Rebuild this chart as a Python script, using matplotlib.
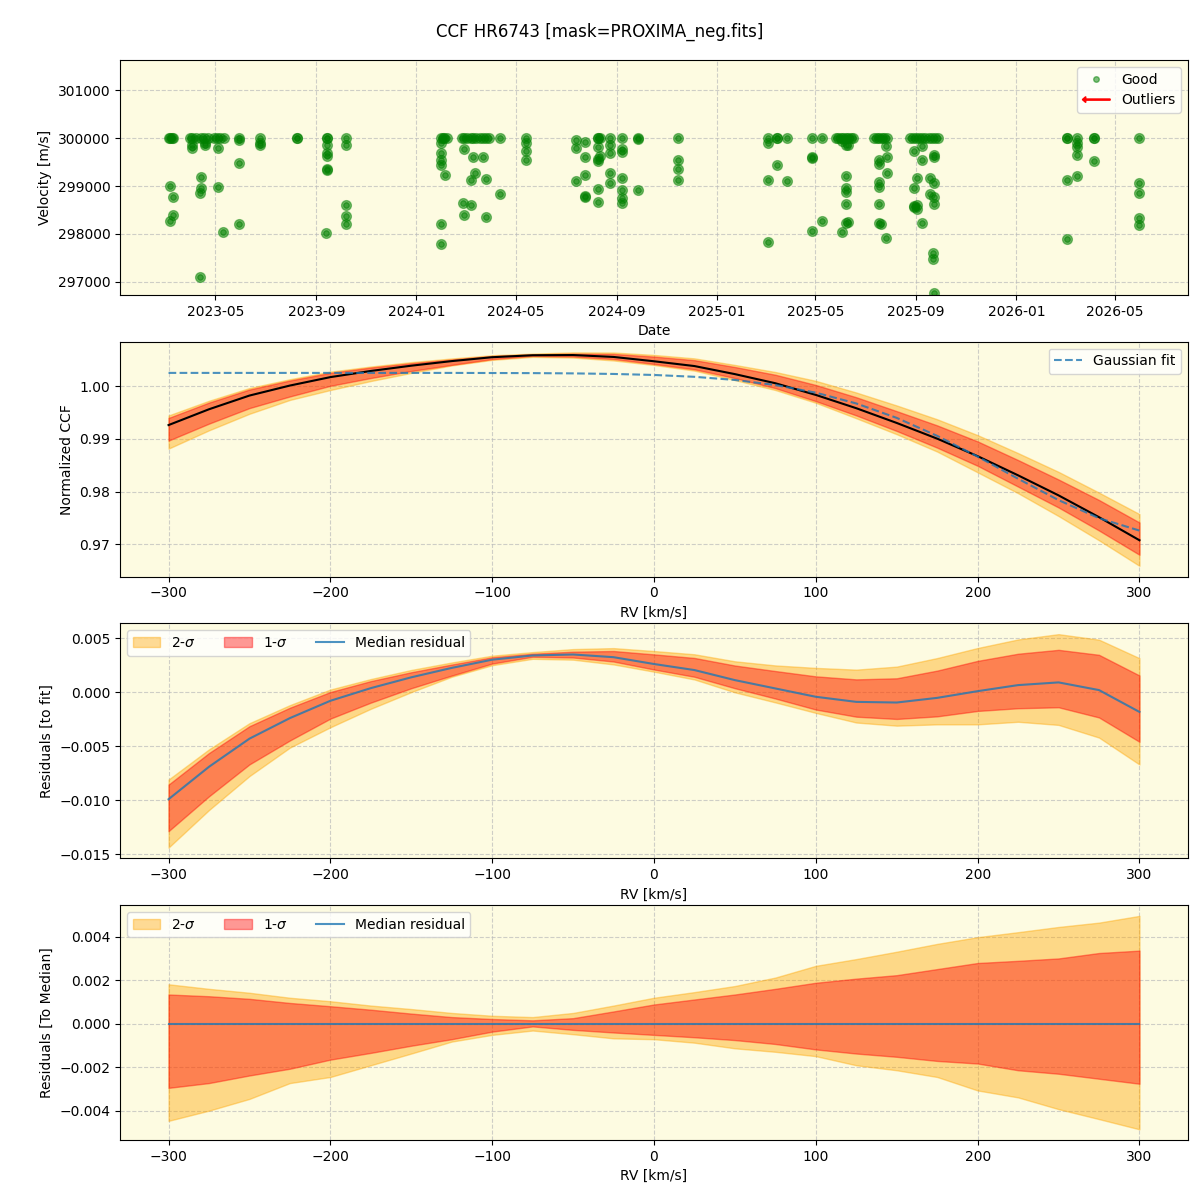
import numpy as np
import matplotlib
matplotlib.use('Agg')
import matplotlib.pyplot as plt
import matplotlib.dates as mdates
import matplotlib.patches as mpatches
from matplotlib.lines import Line2D
from matplotlib.legend_handler import HandlerPatch

# --- top panel: RV time series (date, velocity in m/s) ---
obs_dates = [
    '2023-03-05', '2023-03-07', '2023-03-09', '2023-03-11', '2023-03-07', '2023-03-10', '2023-03-10', '2023-03-07',
    '2023-03-31', '2023-04-03', '2023-04-08', '2023-04-13', '2023-04-17', '2023-04-22', '2023-04-03', '2023-04-03',
    '2023-04-14', '2023-04-14', '2023-04-12', '2023-04-12', '2023-04-19', '2023-04-19',
    '2023-04-29', '2023-05-03', '2023-05-07', '2023-05-11', '2023-05-04', '2023-05-04', '2023-05-10',
    '2023-05-30', '2023-05-30', '2023-05-30', '2023-05-30',
    '2023-06-24', '2023-06-24', '2023-06-24',
    '2023-08-09', '2023-08-09',
    '2023-09-14', '2023-09-14', '2023-09-14', '2023-09-14', '2023-09-14', '2023-09-14', '2023-09-14', '2023-09-13',
    '2023-10-07', '2023-10-07', '2023-10-07', '2023-10-07', '2023-10-07',
    '2024-01-31', '2024-02-02', '2024-02-04', '2024-02-07', '2024-01-31', '2024-01-31', '2024-01-31', '2024-01-31',
    '2024-02-05', '2024-01-31', '2024-01-31',
    '2024-02-25', '2024-02-28', '2024-03-03', '2024-03-07', '2024-03-10', '2024-03-14', '2024-03-18', '2024-03-22',
    '2024-03-26', '2024-03-30', '2024-02-28', '2024-03-10', '2024-03-22', '2024-03-12', '2024-03-07', '2024-03-26',
    '2024-02-27', '2024-03-07', '2024-02-28', '2024-03-26',
    '2024-04-12', '2024-04-12',
    '2024-05-13', '2024-05-13', '2024-05-13', '2024-05-13',
    '2024-07-13', '2024-07-13', '2024-07-13',
    '2024-07-25', '2024-07-25', '2024-07-25', '2024-07-25', '2024-07-25',
    '2024-08-09', '2024-08-09', '2024-08-09', '2024-08-09', '2024-08-09', '2024-08-09', '2024-08-09',
    '2024-08-12', '2024-08-12',
    '2024-08-24', '2024-08-24', '2024-08-24', '2024-08-24', '2024-08-24',
    '2024-09-08', '2024-09-08', '2024-09-08', '2024-09-08', '2024-09-08', '2024-09-08', '2024-09-08',
    '2024-09-27', '2024-09-27', '2024-09-27',
    '2024-11-15', '2024-11-15', '2024-11-15', '2024-11-15',
    '2025-03-04', '2025-03-04', '2025-03-04', '2025-03-04',
    '2025-03-15', '2025-03-15', '2025-03-15',
    '2025-03-27', '2025-03-27',
    '2025-04-27', '2025-04-27', '2025-04-27', '2025-04-27',
    '2025-05-09', '2025-05-09',
    '2025-05-26', '2025-05-29', '2025-06-01', '2025-06-04', '2025-06-07', '2025-06-10', '2025-06-13', '2025-06-16',
    '2025-06-02', '2025-06-02', '2025-06-07', '2025-06-07', '2025-06-07', '2025-06-07', '2025-06-07', '2025-06-07',
    '2025-06-10', '2025-06-10',
    '2025-07-12', '2025-07-15', '2025-07-18', '2025-07-21', '2025-07-24', '2025-07-27',
    '2025-07-18', '2025-07-18', '2025-07-18', '2025-07-18', '2025-07-18', '2025-07-18', '2025-07-20',
    '2025-07-26', '2025-07-26', '2025-07-27', '2025-07-27',
    '2025-08-24', '2025-08-28', '2025-09-01', '2025-09-04', '2025-09-08', '2025-09-12', '2025-09-16', '2025-09-20',
    '2025-09-24', '2025-09-28',
    '2025-08-29', '2025-08-29', '2025-08-29', '2025-08-29', '2025-09-02', '2025-09-02', '2025-09-02',
    '2025-09-08', '2025-09-08', '2025-09-08', '2025-09-18', '2025-09-18',
    '2025-09-23', '2025-09-23', '2025-09-23', '2025-09-23', '2025-09-23', '2025-09-21', '2025-09-21', '2025-09-23',
    '2026-03-04', '2026-03-04', '2026-03-04', '2026-03-04',
    '2026-03-16', '2026-03-16', '2026-03-16', '2026-03-16', '2026-03-16',
    '2026-04-06', '2026-04-06', '2026-04-06',
    '2026-05-31', '2026-05-31', '2026-05-31', '2026-05-31', '2026-05-31',
]
obs_vel = [
    300000, 300000, 300000, 300000, 299000, 298770, 298400, 298270,
    300000, 300000, 300000, 300000, 300000, 300000, 299790, 299860,
    299185, 298960, 298850, 297095, 299900, 299850,
    300000, 300000, 300000, 300000, 299790, 298980, 298035,
    300000, 299950, 299480, 298210,
    300000, 299900, 299860,
    300000, 300010,
    300000, 300010, 299860, 299680, 299620, 299340, 299360, 298015,
    300000, 299860, 298600, 298375, 298200,
    300000, 300000, 300000, 300000, 299900, 299690, 299550, 299435,
    299225, 298200, 297785,
    300000, 300000, 300000, 300000, 300000, 300000, 300000, 300000,
    300000, 300000, 299770, 299600, 299600, 299270, 299130, 299150,
    298640, 298605, 298400, 298350,
    300000, 298830,
    300000, 299900, 299740, 299540,
    299950, 299790, 299110,
    299910, 299610, 299220, 298790, 298770,
    300000, 300000, 299810, 299560, 299530, 298940, 298660,
    300000, 299620,
    300000, 299860, 299690, 299270, 299060,
    300000, 299720, 299780, 299160, 298920, 298750, 298640,
    300000, 299980, 298920,
    300000, 299550, 299350, 299130,
    300000, 299900, 299130, 297840,
    300000, 300010, 299440,
    300000, 299110,
    300000, 299600, 299575, 298060,
    300000, 298260,
    300000, 300000, 300000, 300000, 300000, 300000, 300000, 300000,
    299930, 298030, 299200, 298955, 298865, 298630, 298230, 299860,
    299850, 298250,
    300000, 300000, 300000, 300000, 300000, 300000,
    299550, 299460, 299090, 298970, 298620, 298220, 298210,
    299840, 297910, 299270, 299600,
    300000, 300000, 300000, 300000, 300000, 300000, 300000, 300000,
    300000, 300000,
    299735, 298955, 298590, 298555, 299160, 298605, 298515,
    299550, 299825, 298220, 299160, 298835,
    299650, 299600, 299060, 298770, 298630, 297610, 297470, 296760,
    300000, 300000, 299130, 297890,
    300000, 299900, 299820, 299650, 299200,
    300000, 300000, 299530,
    300000, 299060, 298850, 298340, 298180,
]

# --- CCF panels, sampled every 25 km/s ---
rv = [-300, -275, -250, -225, -200, -175, -150, -125, -100, -75, -50, -25, 0,
      25, 50, 75, 100, 125, 150, 175, 200, 225, 250, 275, 300]
gauss_fit = [1.00254, 1.00254, 1.00254, 1.00254, 1.00254, 1.00254, 1.00254, 1.00254, 1.00252, 1.00250,
             1.00245, 1.00234, 1.00215, 1.00180, 1.00120, 1.00024, 0.99879, 0.99674, 0.99400, 0.99059,
             0.98665, 0.98245, 0.97840, 0.97497, 0.97261]
resid_median = [-9.9, -6.9, -4.3, -2.4, -0.8, 0.37, 1.37, 2.24, 3.0, 3.39, 3.48, 3.23, 2.6,
                2.04, 1.11, 0.34, -0.43, -0.9, -0.96, -0.53, 0.09, 0.65, 0.9, 0.19, -1.83]  # x1e-3
# spread around the median (x1e-3)
sig1_hi = [1.35, 1.27, 1.15, 0.96, 0.81, 0.65, 0.47, 0.31, 0.22, 0.16, 0.26, 0.57, 0.89,
           1.12, 1.35, 1.61, 1.89, 2.08, 2.24, 2.52, 2.8, 2.9, 3.01, 3.26, 3.37]
sig1_lo = [-2.95, -2.73, -2.38, -2.07, -1.65, -1.34, -1.01, -0.71, -0.36, -0.12, -0.28, -0.4, -0.51,
           -0.62, -0.75, -0.93, -1.18, -1.37, -1.52, -1.71, -1.83, -2.14, -2.3, -2.53, -2.76]
sig2_hi = [1.82, 1.61, 1.43, 1.2, 1.04, 0.84, 0.68, 0.5, 0.37, 0.31, 0.5, 0.84, 1.2,
           1.46, 1.74, 2.13, 2.67, 2.98, 3.32, 3.68, 3.99, 4.22, 4.46, 4.66, 4.97]
sig2_lo = [-4.47, -4.0, -3.46, -2.73, -2.45, -1.91, -1.37, -0.82, -0.51, -0.31, -0.48, -0.67, -0.71,
           -0.87, -1.13, -1.29, -1.49, -1.91, -2.14, -2.45, -3.07, -3.39, -3.93, -4.39, -4.86]

BG = '#fdfbe1'

rv = np.array(rv)
gauss = np.array(gauss_fit)
resid = np.array(resid_median) * 1e-3
s1h, s1l = np.array(sig1_hi) * 1e-3, np.array(sig1_lo) * 1e-3
s2h, s2l = np.array(sig2_hi) * 1e-3, np.array(sig2_lo) * 1e-3
ccf = gauss + resid


def left_arrow(legend, orig_handle, xdescent, ydescent, width, height, fontsize):
    return mpatches.FancyArrow(width, 0.5 * height, -width, 0, width=0.12 * height,
                               head_width=0.6 * height, head_length=0.35 * height,
                               length_includes_head=True)


def draw_bands(ax, center, labels=True):
    ax.fill_between(rv, center + s2l, center + s2h, color='orange', alpha=0.4,
                    label=r'2-$\sigma$' if labels else None)
    ax.fill_between(rv, center + s1l, center + s1h, color='red', alpha=0.4,
                    label=r'1-$\sigma$' if labels else None)


fig, axes = plt.subplots(4, 1, figsize=(12, 12), dpi=100)
fig.subplots_adjust(left=0.1, right=0.99, top=0.95, bottom=0.05, hspace=0.2)
fig.suptitle('CCF HR6743 [mask=PROXIMA_neg.fits]', fontsize=12, y=0.981)

for ax in axes:
    ax.set_facecolor(BG)
    ax.grid(True, ls='--', color='#bbbbbb', alpha=0.7)
    ax.set_axisbelow(True)

# time series
ax = axes[0]
d = np.array(obs_dates, dtype='datetime64[D]')
ax.plot(d, obs_vel, 'o', color='green', alpha=0.5, ms=7)
ax.plot(d, obs_vel, 'o', color='green', alpha=0.5, ms=4)
ax.set_ylim(296730, 301630)
ax.xaxis.set_major_locator(mdates.MonthLocator(bymonth=[1, 5, 9]))
ax.xaxis.set_major_formatter(mdates.DateFormatter('%Y-%m'))
ax.set_xlabel('Date')
ax.set_ylabel('Velocity [m/s]')
good = Line2D([], [], marker='o', ls='', color='green', alpha=0.5, ms=4)
outl = mpatches.FancyArrow(0, 0, 1, 0, color='red')
ax.legend([good, outl], ['Good', 'Outliers'], loc='upper right',
          handler_map={mpatches.FancyArrow: HandlerPatch(patch_func=left_arrow)})

# CCF
ax = axes[1]
draw_bands(ax, ccf, labels=False)
ax.plot(rv, ccf, color='black', lw=1.5)
ax.plot(rv, gauss, '--', color='tab:blue', alpha=0.8, lw=1.5, label='Gaussian fit')
ax.set_xlabel('RV [km/s]')
ax.set_ylabel('Normalized CCF')
ax.legend(loc='upper right')

# residuals to fit
ax = axes[2]
draw_bands(ax, resid)
ax.plot(rv, resid, color='tab:blue', alpha=0.8, lw=1.5, label='Median residual')
ax.set_xlabel('RV [km/s]')
ax.set_ylabel('Residuals [to fit]')
ax.legend(loc='upper left', ncol=3)

# residuals to median
ax = axes[3]
zero = np.zeros(len(rv))
draw_bands(ax, zero)
ax.plot(rv, zero, color='tab:blue', alpha=0.8, lw=1.5, label='Median residual')
ax.set_xlabel('RV [km/s]')
ax.set_ylabel('Residuals [To Median]')
ax.legend(loc='upper left', ncol=3)

plt.savefig('out.png')
